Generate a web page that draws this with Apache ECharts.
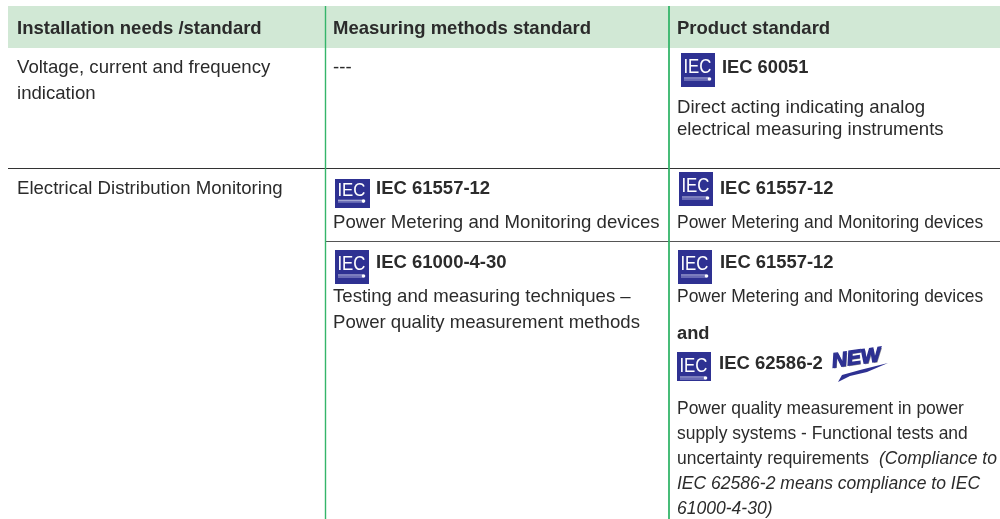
<!DOCTYPE html>
<html>
<head>
<meta charset="utf-8">
<style>
  html, body { margin: 0; padding: 0; background: #fff; overflow: hidden; }
  #main { width: 1000px; height: 519px; }
</style>
<script src="https://cdn.jsdelivr.net/npm/echarts@6/dist/echarts.min.js"></script>
</head>
<body>
<div id="main"></div>
<script>
// table text
const headers = ['Installation needs /standard', 'Measuring methods standard', 'Product standard'];
const needs = ['Voltage, current and frequency', 'indication', 'Electrical Distribution Monitoring'];
const noMethod = '---';
const standards = ['IEC 60051', 'IEC 61557-12', 'IEC 61000-4-30', 'IEC 62586-2'];
const meteringText = 'Power Metering and Monitoring devices';
const analogText = ['Direct acting indicating analog', 'electrical measuring instruments'];
const testingText = ['Testing and measuring techniques \u2013', 'Power quality measurement methods'];
const qualityText = ['Power quality measurement in power', 'supply systems - Functional tests and', 'uncertainty requirements'];
const complianceText = ['(Compliance to', 'IEC 62586-2 means compliance to IEC', '61000-4-30)'];
const andLabel = 'and';
const newLabel = 'NEW';

const FONT = '"Liberation Sans", Arial, sans-serif';
const INK = '#2b2b2b';
const GREEN = '#35b56a';
const BLUE = '#2e3192';

var chartDom = document.getElementById('main');
var myChart = echarts.init(chartDom);

function txt(x, y, s, opt) {
  opt = opt || {};
  return {
    type: 'text',
    x: x,
    y: y + 1,
    z: 5,
    style: {
      text: s,
      fill: opt.fill || INK,
      font: (opt.style || 'normal') + ' ' + (opt.weight || 'normal') + ' ' + (opt.size || 18.6) + 'px ' + FONT,
      textAlign: 'left',
      textVerticalAlign: 'middle'
    }
  };
}

function bold(x, y, s, size) {
  return txt(x, y, s, { weight: 'bold', size: size || 18.5 });
}

function small(x, y, s) {
  return txt(x, y, s, { size: 17.45 });
}

function em(x, y, s) {
  return txt(x, y, s, { size: 17.55, style: 'italic' });
}

function line(x1, y1, x2, y2, color, w) {
  return {
    type: 'line',
    z: 3,
    shape: { x1: x1, y1: y1, x2: x2, y2: y2 },
    style: { stroke: color, lineWidth: w }
  };
}

// small IEC logo: square, letters, underline with dot
function logo(x, y, w, h, sy, dy) {
  sy = sy || 1;
  dy = dy || 0;
  return {
    type: 'group',
    x: x,
    y: y,
    z: 4,
    children: [
      { type: 'rect', shape: { x: 0, y: 0, width: w, height: h }, style: { fill: BLUE } },
      {
        type: 'text', x: 2.4, y: (14.5 + dy) * sy, scaleX: 0.8, scaleY: sy,
        style: { text: 'IEC', fill: '#fff', font: 'normal 21px ' + FONT, textVerticalAlign: 'middle' }
      },
      { type: 'line', shape: { x1: 3, y1: (25 + dy) * sy, x2: 28, y2: (25 + dy) * sy }, style: { stroke: '#c9cbe8', lineWidth: 1 } },
      { type: 'line', shape: { x1: 3, y1: (27 + dy) * sy, x2: 28, y2: (27 + dy) * sy }, style: { stroke: '#a4a6d8', lineWidth: 1 } },
      { type: 'circle', shape: { cx: 28.5, cy: (26 + dy) * sy, r: 1.8 }, style: { fill: '#fff' } }
    ]
  };
}

var g = [];

// header band and rules
g.push({ type: 'rect', z: 1, shape: { x: 8, y: 6, width: 992, height: 42 }, style: { fill: '#d1e8d5' } });
g.push(line(8, 168.5, 1000, 168.5, '#333333', 1.2));
g.push(line(326, 241.5, 1000, 241.5, '#555555', 1.2));
g.push(line(325.5, 6, 325.5, 519, GREEN, 1.4));
g.push(line(669, 6, 669, 519, GREEN, 1.8));

// header
g.push(bold(17, 28, headers[0]));
g.push(bold(333, 28, headers[1]));
g.push(bold(677, 28, headers[2]));

// first column
g.push(txt(17, 67, needs[0]));
g.push(txt(17, 93, needs[1]));
g.push(txt(17, 188, needs[2]));

// second column
g.push(txt(333, 67, noMethod));
g.push(logo(335, 179, 35, 29, 0.85));
g.push(bold(376, 188, standards[1]));
g.push(txt(333, 222, meteringText));
g.push(logo(335, 250, 34, 34));
g.push(bold(376, 262, standards[2]));
g.push(txt(333, 296, testingText[0]));
g.push(txt(333, 322, testingText[1]));

// third column
g.push(logo(681, 53, 34, 34));
g.push(bold(722, 67, standards[0], 18.3));
g.push(txt(677, 107, analogText[0]));
g.push(txt(677, 129, analogText[1]));

g.push(logo(679, 172, 34, 34));
g.push(bold(720, 188, standards[1], 18.4));
g.push(small(677, 222, meteringText));

g.push(logo(678, 250, 34, 34));
g.push(bold(720, 262, standards[1], 18.4));
g.push(small(677, 296, meteringText));
g.push(bold(677, 333, andLabel, 18.3));
g.push(logo(677, 352, 34, 29, 1, 0));
g.push(bold(719, 363, standards[3]));

// NEW badge
g.push({
  type: 'polygon', z: 4,
  shape: { points: [[838, 382], [842, 375], [860, 370], [888, 363], [867, 372], [850, 376]] },
  style: { fill: BLUE }
});
g.push({
  type: 'text', x: 833, y: 363, z: 4, rotation: 0.14, scaleX: 1.05,
  style: {
    text: newLabel, fill: '#8f8f8f', font: 'italic bold 20px ' + FONT, textVerticalAlign: 'middle'
  }
});
g.push({
  type: 'text', x: 832, y: 362, z: 4, rotation: 0.14, scaleX: 1.05,
  style: {
    text: newLabel, fill: BLUE, font: 'italic bold 20px ' + FONT, textVerticalAlign: 'middle',
    stroke: BLUE, lineWidth: 1.3
  }
});

g.push(small(677, 408, qualityText[0]));
g.push(small(677, 433, qualityText[1]));
g.push(small(677, 458, qualityText[2]));
g.push(em(879, 458, complianceText[0]));
g.push(em(677, 483, complianceText[1]));
g.push(em(677, 508, complianceText[2]));

var option = {
  backgroundColor: '#ffffff',
  animation: false,
  graphic: { elements: g }
};
option && myChart.setOption(option);
</script>
</body>
</html>
